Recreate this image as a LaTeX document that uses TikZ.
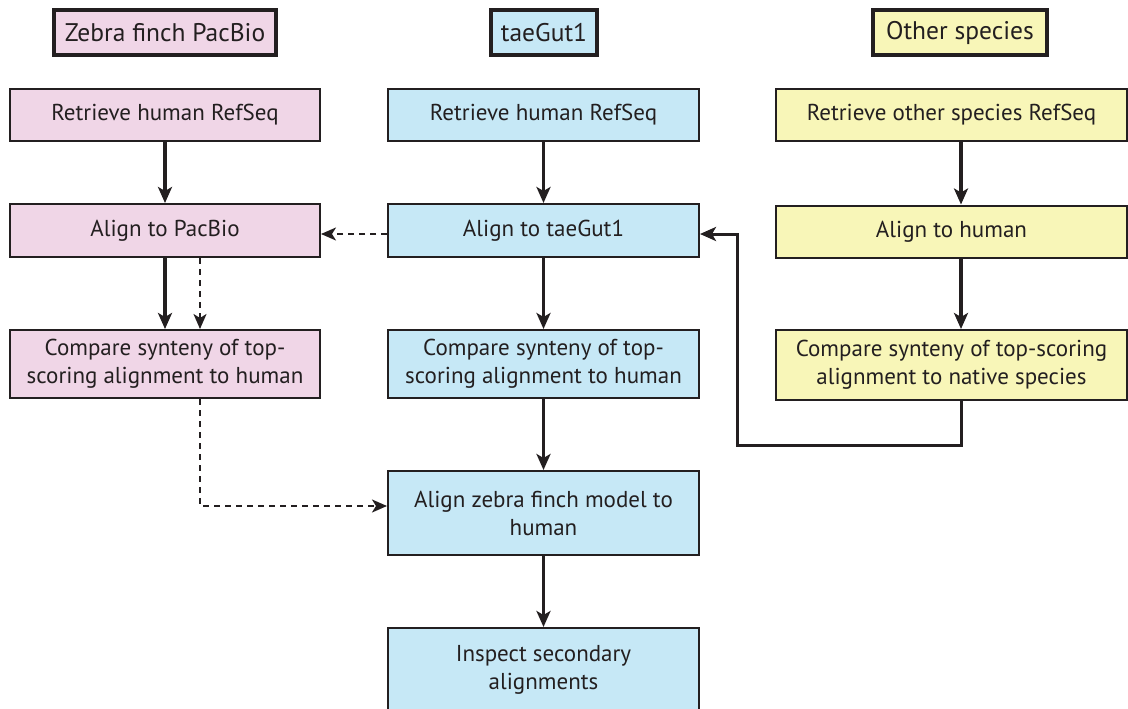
\documentclass[tikz,border=0pt]{standalone}
\usepackage{fontspec}
\setmainfont{PT Sans}
\usetikzlibrary{arrows.meta}
\definecolor{ink}{HTML}{231F20}
\definecolor{pinkf}{HTML}{F0D6E7}
\definecolor{bluef}{HTML}{C6E8F6}
\definecolor{yellf}{HTML}{F8F6B8}
\tikzset{
  box/.style={draw=ink, line width=2pt, rectangle, inner sep=0pt, align=center,
    text=ink, font=\fontsize{23}{28}\selectfont},
  head/.style={box, line width=3.5pt, font=\fontsize{25.5}{30}\selectfont},
  flow/.style={draw=ink, line width=3.5pt, -{Stealth[length=16pt,width=14pt,inset=4pt]}},
  dflow/.style={draw=ink, line width=2pt, dash pattern=on 6pt off 5pt, -{Stealth[length=15pt,width=13pt,inset=4pt]}},
}
\begin{document}
\begin{tikzpicture}[x=1pt,y=-1pt]
\useasboundingbox (0,0) rectangle (1128,709);
\clip (0,0) rectangle (1128,709);
% headers
\node[head, fill=pinkf, minimum width=222pt, minimum height=45pt] (h1) at (165,32.5) {Zebra finch PacBio};
\node[head, fill=bluef, minimum width=106pt, minimum height=45pt] (h2) at (544,32.5) {taeGut1};
\node[head, fill=yellf, minimum width=174pt, minimum height=45pt] (h3) at (960,32.5) {Other species};
% left column
\node[box, fill=pinkf, minimum width=310pt, minimum height=52pt] (l1) at (165,115) {Retrieve human RefSeq};
\node[box, fill=pinkf, minimum width=310pt, minimum height=53pt] (l2) at (165,230.5) {Align to PacBio};
\node[box, fill=pinkf, minimum width=310pt, minimum height=68pt] (l3) at (165,364) {Compare synteny of top-\\scoring alignment to human};
% middle column
\node[box, fill=bluef, minimum width=311pt, minimum height=52pt] (m1) at (543.5,115) {Retrieve human RefSeq};
\node[box, fill=bluef, minimum width=311pt, minimum height=53pt] (m2) at (543.5,230.5) {Align to taeGut1};
\node[box, fill=bluef, minimum width=311pt, minimum height=68pt] (m3) at (543.5,364) {Compare synteny of top-\\scoring alignment to human};
\node[box, fill=bluef, minimum width=311pt, minimum height=84pt] (m4) at (543.5,513) {Align zebra finch model to\\human};
\node[box, fill=bluef, minimum width=311pt, minimum height=100pt] (m5) at (543.5,678) {};
\node[text=ink, font=\fontsize{23}{28}\selectfont, align=center] (m5t) at (543.5,670) {Inspect secondary\\alignments};
% right column
\node[box, fill=yellf, minimum width=351pt, minimum height=52pt] (r1) at (951.5,115) {Retrieve other species RefSeq};
\node[box, fill=yellf, minimum width=351pt, minimum height=52pt] (r2) at (951.5,231.5) {Align to human};
\node[box, fill=yellf, minimum width=351pt, minimum height=70pt] (r3) at (951.5,365) {Compare synteny of top-scoring\\alignment to native species};
% axis coordinates
\coordinate (xl) at (165,0);
\coordinate (xd) at (200,0);
\coordinate (xr) at (961,0);
\coordinate (bendA) at (961,445);
\coordinate (bendB) at (737,445);
\coordinate (bendC) at (737,234);
\coordinate (dA) at (200,506);
% left arrows
\draw[flow] (l1.south -| xl) -- (l2.north -| xl);
\draw[flow] (l2.south -| xl) -- (l3.north -| xl);
\draw[dflow] (l2.south -| xd) -- (l3.north -| xd);
\draw[dflow] (m2.west |- bendC) -- (l2.east |- bendC);
\draw[dflow] (l3.south -| xd) -- (dA) -- (m4.west |- dA);
% middle arrows
\draw[flow] (m1) -- (m2);
\draw[flow] (m2) -- (m3);
\draw[flow] (m3) -- (m4);
\draw[flow] (m4) -- (m5);
% right arrows
\draw[flow] (r1.south -| xr) -- (r2.north -| xr);
\draw[flow] (r2.south -| xr) -- (r3.north -| xr);
\draw[flow, line width=3pt] (r3.south -| xr) -- (bendA) -- (bendB) -- (bendC) -- (m2.east |- bendC);
\end{tikzpicture}
\end{document}
